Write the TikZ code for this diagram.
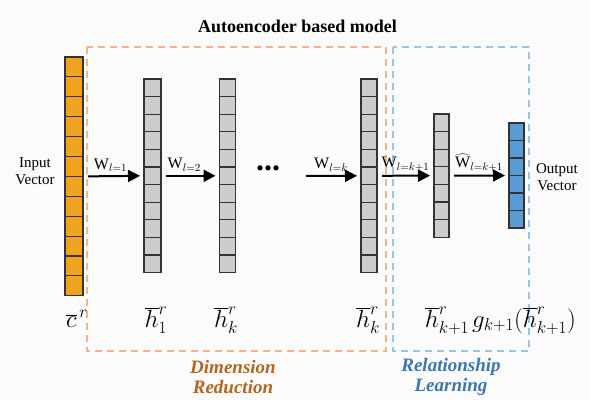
\documentclass[tikz,border=0pt]{standalone}
\usepackage{fontspec}
\setmainfont{Liberation Serif}
\usetikzlibrary{arrows.meta}
\definecolor{orfill}{HTML}{F2A31E}
\definecolor{grfill}{HTML}{CDCDCD}
\definecolor{blfill}{HTML}{5B9BD5}
\definecolor{ordash}{HTML}{F4B48A}
\definecolor{bldash}{HTML}{9CC3E5}
\definecolor{ortext}{HTML}{B5651D}
\definecolor{bltext}{HTML}{3C77B4}
\definecolor{bgcol}{HTML}{FBFBFB}
\newcommand\vcol[7]{% name, center x, top y, width, n, cell h, fill
  \pgfmathsetmacro\vh{#5*#6}
  \node[colbox,minimum width=#4pt,minimum height=\vh pt] (#1) at (#2,{#3+\vh/2}) {};
  \foreach \i in {1,...,#5}{\draw[cell,fill=#7] ({#2-#4/2},{#3+(\i-1)*#6}) rectangle ({#2+#4/2},{#3+\i*#6});}
}
\begin{document}
\begin{tikzpicture}[x=1pt,y=-1pt,
  colbox/.style={draw=none,inner sep=0pt,outer sep=0pt},
  cell/.style={draw=black!80,line width=1.1pt},
  ordashed/.style={draw=ordash,line width=1.5pt,dash pattern=on 7pt off 5pt},
  bldashed/.style={draw=bldash,line width=1.5pt,dash pattern=on 7pt off 5pt},
  arr/.style={line width=2pt,-{Triangle[length=12pt,width=12pt]},shorten >=4pt,shorten <=5pt},
  wlab/.style={midway,above=0pt,font=\fontsize{16}{18}\selectfont},
  side/.style={align=center,font=\fontsize{15}{17}\selectfont},
  mlab/.style={anchor=base,font=\fontsize{26}{28}\selectfont},
  grp/.style={align=center,font=\fontsize{19}{20.5}\selectfont\bfseries\itshape}
]
\useasboundingbox (0,0) rectangle (590,400);
\fill[bgcol] (0,0) rectangle (590,400);

\node[anchor=base,font=\fontsize{18}{20}\selectfont\bfseries] (title) at (297.5,32) {Autoencoder based model};

\draw[ordashed] (87,47) rectangle (386,351);
\draw[bldashed] (393,47) rectangle (529,351);

\vcol{oc}{74}{57}{18}{12}{19.9}{orfill}
\vcol{ga}{152.5}{79}{17}{11}{17.6}{grfill}
\vcol{gb}{227.5}{79}{16}{11}{17.6}{grfill}
\vcol{gc}{369}{79}{16}{11}{17.6}{grfill}
\vcol{gd}{441.5}{114}{15}{7}{17.6}{grfill}
\vcol{bc}{516.5}{123}{15}{6}{17.5}{blfill}

\node[side] (inp) at (35,171) {Input\\Vector};
\node[side] (outp) at (557,177) {Output\\Vector};

\node[font=\fontsize{32}{32}\selectfont\bfseries] (dots) at (268,168) {...};
\coordinate (a3s) at (301,176);

\draw[arr] (oc.east) -- (ga.west) node[wlab,xshift=-3pt] {$\mathrm{W}_{l=1}$};
\draw[arr] (ga.east) -- (gb.west) node[wlab,xshift=-6pt] {$\mathrm{W}_{l=2}$};
\draw[arr] (a3s) -- (gc.west) node[wlab] {$\mathrm{W}_{l=k}$};
\draw[arr] (gc.east) -- (gd.west) node[wlab] {$\mathrm{W}_{l=k+1}$};
\draw[arr] (gd.east) -- (bc.west) node[wlab] {$\widehat{\mathrm{W}}_{l=k+1}$};

\node[mlab] (lc) at (77,327) {$\overline{c}^{\,r}$};
\node[mlab] (l1) at (156,327) {$\overline{h}_1^{r}$};
\node[mlab] (l2) at (226,327) {$\overline{h}_k^{r}$};
\node[mlab] (l3) at (368,327) {$\overline{h}_k^{r}$};
\node[mlab] (l4) at (447,327) {$\overline{h}_{k+1}^{r}$};
\node[mlab] (l5) at (524,327) {$g_{k+1}(\overline{h}_{k+1}^{r})$};

\node[grp,text=ortext] (dr) at (233,377) {Dimension\\Reduction};
\node[grp,text=bltext] (rl) at (451,377) {Relationship\\Learning};
\end{tikzpicture}
\end{document}
